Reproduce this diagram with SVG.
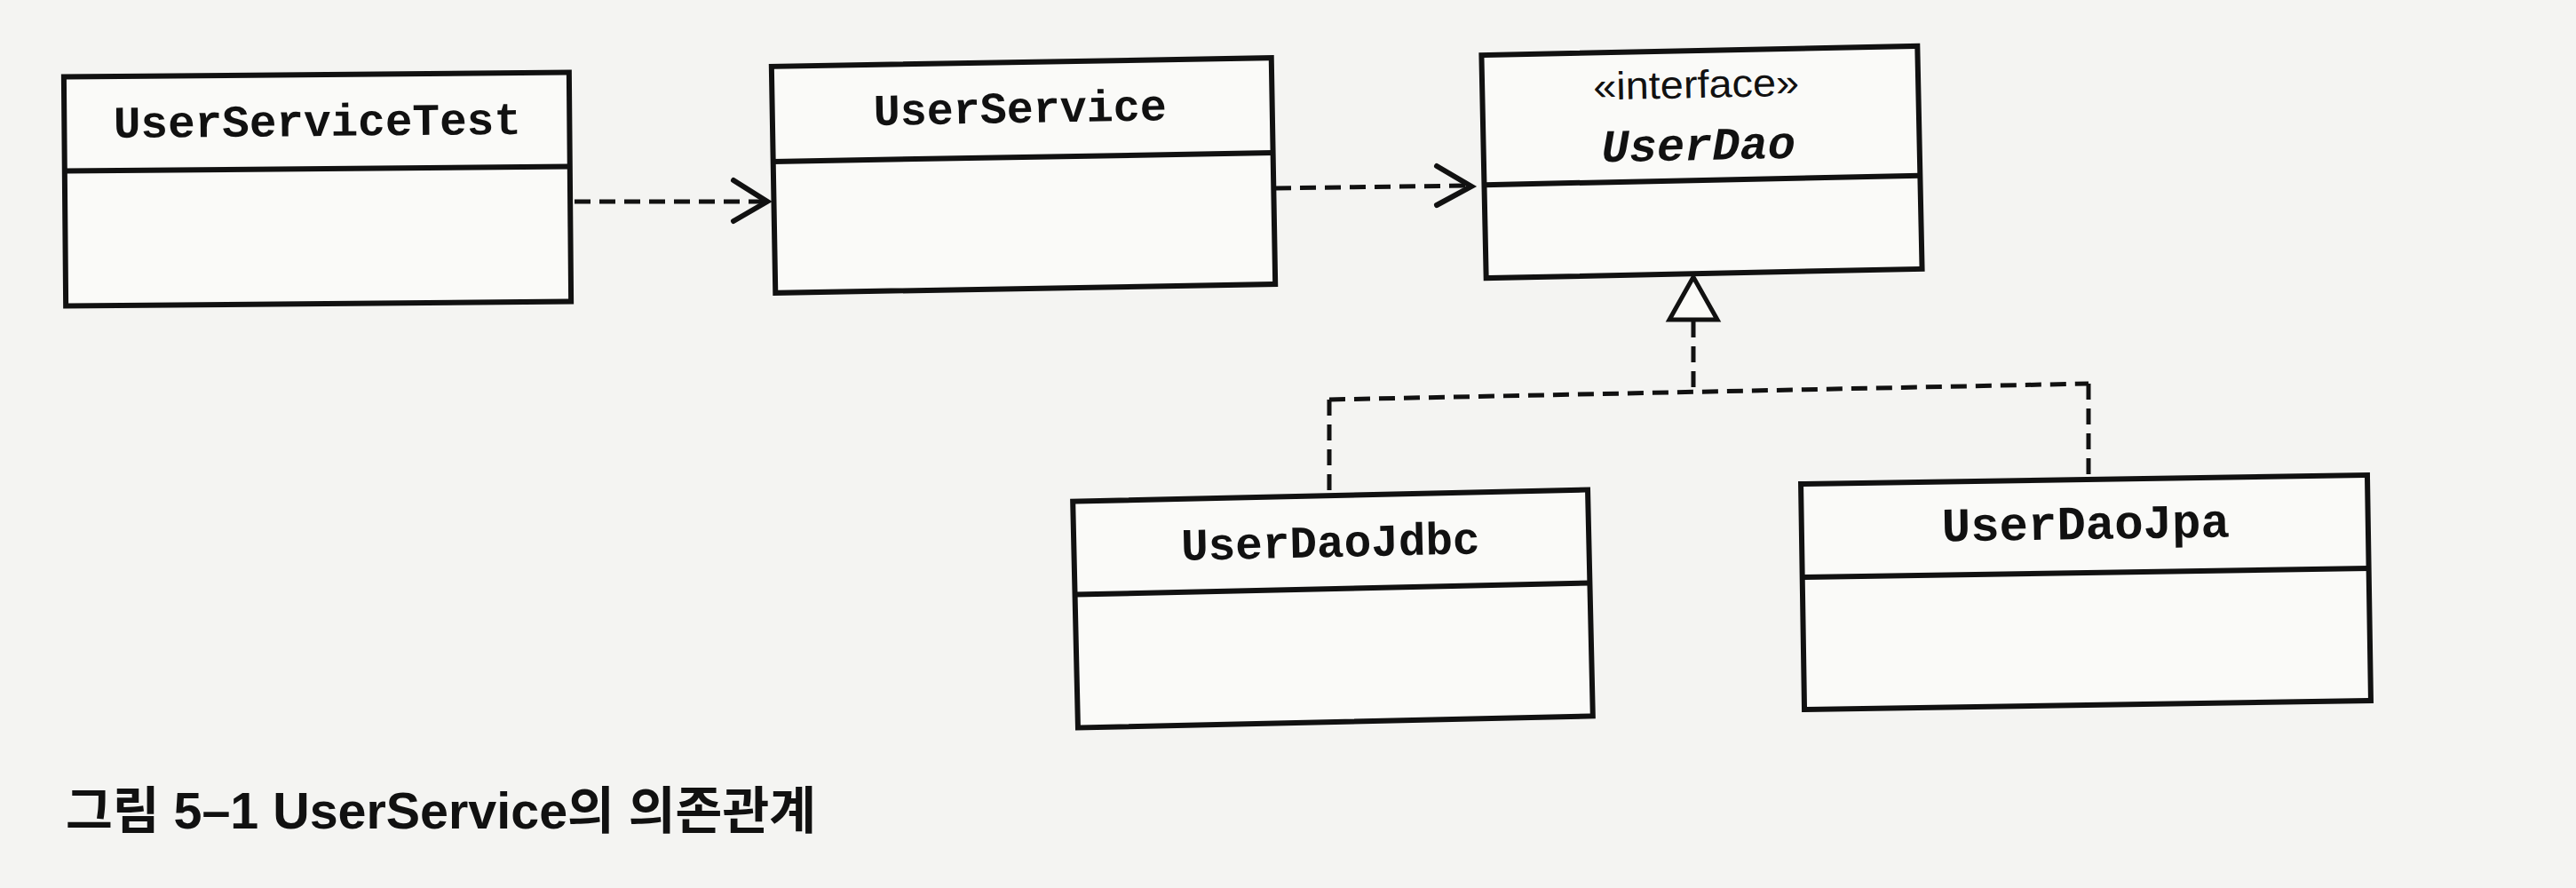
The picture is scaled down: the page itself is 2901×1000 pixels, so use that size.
<svg xmlns="http://www.w3.org/2000/svg" width="2901" height="1000" viewBox="0 0 2901 1000">
<style>
.box{fill:#fafaf8;stroke:#111;stroke-width:6}
.div{stroke:#111;stroke-width:6}
.mono{font-family:"Liberation Mono","DejaVu Sans Mono",monospace;font-weight:bold;fill:#111;text-anchor:middle}
.sans{font-family:"Liberation Sans",Arial,sans-serif;fill:#111;text-anchor:middle}
.dash{fill:none;stroke:#111;stroke-width:5;stroke-dasharray:18 10}
.head{fill:none;stroke:#111;stroke-width:6;stroke-linejoin:miter;stroke-linecap:round}
</style>
<rect x="0" y="0" width="2901" height="1000" fill="#f4f4f2"/>
<g id="UserServiceTest" transform="rotate(-0.5 358 213)">
<rect class="box" x="73" y="84" width="569" height="258"/>
<line class="div" x1="73" y1="190" x2="642" y2="190"/>
<text class="mono" x="358" y="153" font-size="51">UserServiceTest</text>
</g>
<g id="UserService" transform="rotate(-1 1152 197)">
<rect class="box" x="871" y="70" width="563" height="255"/>
<line class="div" x1="871" y1="177" x2="1434" y2="177"/>
<text class="mono" x="1150" y="138" font-size="50">UserService</text>
</g>
<g id="UserDao" transform="rotate(-1.2 1916 183)">
<rect class="box" x="1671" y="57" width="491" height="251"/>
<line class="div" x1="1671" y1="203" x2="2162" y2="203"/>
<text class="sans" x="1912" y="110" font-size="44" textLength="232" lengthAdjust="spacingAndGlyphs">«interface»</text>
<text class="mono" x="1913" y="180" font-size="52" font-style="italic">UserDao</text>
</g>
<g id="UserDaoJdbc" transform="rotate(-1.3 1501 686)">
<rect class="box" x="1211" y="558" width="580" height="255"/>
<line class="div" x1="1211" y1="663" x2="1791" y2="663"/>
<text class="mono" x="1500" y="627" font-size="51">UserDaoJdbc</text>
</g>
<g id="UserDaoJpa" transform="rotate(-0.9 2349 667)">
<rect class="box" x="2030" y="540" width="638" height="254"/>
<line class="div" x1="2030" y1="645" x2="2668" y2="645"/>
<text class="mono" x="2350" y="607" font-size="54">UserDaoJpa</text>
</g>
<g id="connectors">
<line class="dash" x1="647" y1="227" x2="860" y2="227" stroke-width="6"/>
<polyline class="head" points="826,203 864,227 826,249"/>
<line class="dash" x1="1436" y1="212" x2="1652" y2="209" stroke-width="6"/>
<polyline class="head" points="1618,187 1657,210 1618,231"/>
<polygon points="1907,312 1880,360 1934,360" fill="#fafaf8" stroke="#111" stroke-width="5" stroke-linejoin="miter"/>
<line class="dash" x1="1907" y1="362" x2="1907" y2="442"/>
<line class="dash" x1="1497" y1="450" x2="2352" y2="432"/>
<line class="dash" x1="1497" y1="450" x2="1497" y2="558"/>
<line class="dash" x1="2352" y1="432" x2="2352" y2="537"/>
</g>
<text x="74" y="933" font-family="'Liberation Sans','Noto Sans CJK KR',sans-serif" font-weight="bold" font-size="57" fill="#111" textLength="845" lengthAdjust="spacingAndGlyphs">그림 5–1 UserService의 의존관계</text>
</svg>
